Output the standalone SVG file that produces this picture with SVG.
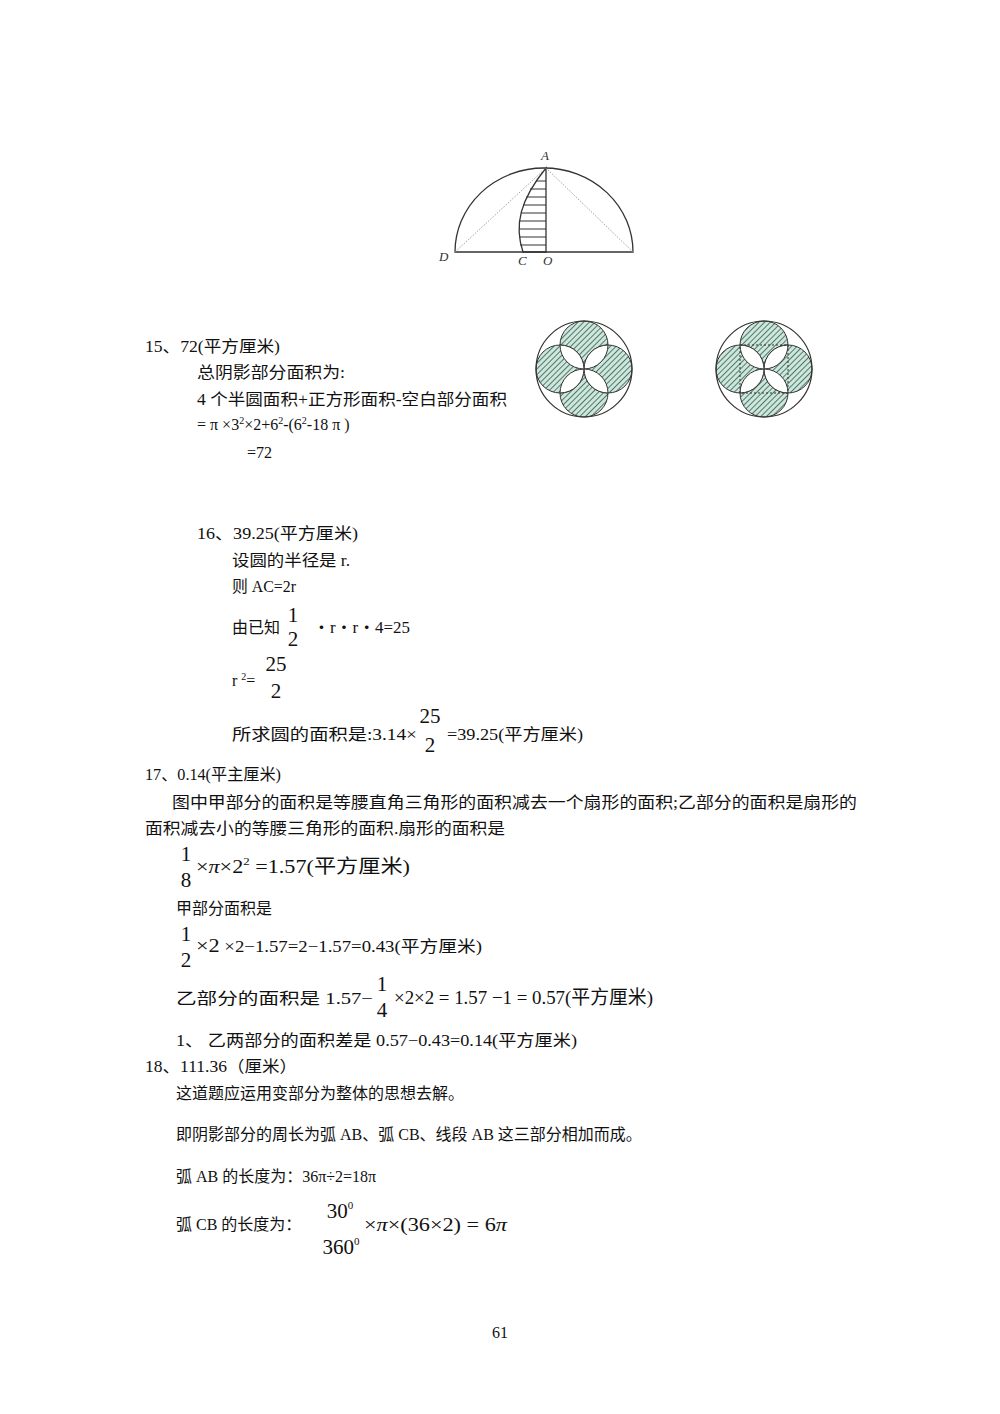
<svg xmlns="http://www.w3.org/2000/svg" width="1000" height="1414" viewBox="0 0 1000 1414">
<defs>
<style>
text{font-family:"Liberation Serif","Noto Sans CJK SC",serif;font-size:16px;fill:#111}
.m{font-size:16px}
.b{font-size:19px}
.f{font-size:21px;text-anchor:middle}
.fig{fill:none;stroke:#333;stroke-width:1.3}
.lbl{font-style:italic;font-size:13px;fill:#333}
</style>
<pattern id="hat" width="4" height="4" patternUnits="userSpaceOnUse" patternTransform="rotate(45)">
<rect width="4" height="4" fill="#cfe6dc"/><line x1="0" y1="0" x2="0" y2="4" stroke="#2e5e4e" stroke-width="1.6"/>
</pattern>
</defs>
<rect width="1000" height="1414" fill="#fff"/>
<g id="semi">
<path d="M546,168 L546,252 L523,252 C514,225 520,200 546,168 Z" fill="#fff" stroke="#333" stroke-width="1.3"/>
<g stroke="#333" stroke-width="1">
<line x1="536" y1="181" x2="546" y2="181"/><line x1="530" y1="189" x2="546" y2="189"/><line x1="526" y1="197" x2="546" y2="197"/><line x1="523" y1="205" x2="546" y2="205"/><line x1="521" y1="213" x2="546" y2="213"/><line x1="519" y1="221" x2="546" y2="221"/><line x1="519" y1="229" x2="546" y2="229"/><line x1="519" y1="237" x2="546" y2="237"/><line x1="520" y1="245" x2="546" y2="245"/>
</g>
<path class="fig" d="M455,252 A89,84 0 0 1 633,252 Z"/>
<line x1="455" y1="252" x2="546" y2="168" stroke="#888" stroke-width="0.8" stroke-dasharray="1.5,1.5"/>
<line x1="633" y1="252" x2="546" y2="168" stroke="#888" stroke-width="0.8" stroke-dasharray="1.5,1.5"/>
<text class="lbl" x="541" y="160">A</text>
<text class="lbl" x="439" y="261">D</text>
<text class="lbl" x="518" y="265">C</text>
<text class="lbl" x="543" y="265">O</text>
</g>
<g id="flower1">
<circle cx="584" cy="345" r="24" fill="url(#hat)" stroke="#333"/>
<circle cx="584" cy="393" r="24" fill="url(#hat)" stroke="#333"/>
<circle cx="560" cy="369" r="24" fill="url(#hat)" stroke="#333"/>
<circle cx="608" cy="369" r="24" fill="url(#hat)" stroke="#333"/>
<g fill="#fff" stroke="#333">
<path d="M584,369 A24,24 0 0 1 608,345 A24,24 0 0 1 584,369Z"/>
<path d="M584,369 A24,24 0 0 0 608,393 A24,24 0 0 0 584,369Z"/>
<path d="M584,369 A24,24 0 0 1 560,393 A24,24 0 0 1 584,369Z"/>
<path d="M584,369 A24,24 0 0 0 560,345 A24,24 0 0 0 584,369Z"/>
</g>
<circle cx="584" cy="369" r="48" fill="none" stroke="#333" stroke-width="1.2"/>
</g>
<g id="flower2">
<circle cx="764" cy="345" r="24" fill="url(#hat)" stroke="#333"/>
<circle cx="764" cy="393" r="24" fill="url(#hat)" stroke="#333"/>
<circle cx="740" cy="369" r="24" fill="url(#hat)" stroke="#333"/>
<circle cx="788" cy="369" r="24" fill="url(#hat)" stroke="#333"/>
<g fill="#fff" stroke="#333">
<path d="M764,369 A24,24 0 0 1 788,345 A24,24 0 0 1 764,369Z"/>
<path d="M764,369 A24,24 0 0 0 788,393 A24,24 0 0 0 764,369Z"/>
<path d="M764,369 A24,24 0 0 1 740,393 A24,24 0 0 1 764,369Z"/>
<path d="M764,369 A24,24 0 0 0 740,345 A24,24 0 0 0 764,369Z"/>
</g>
<rect x="740" y="345" width="48" height="48" fill="none" stroke="#333" stroke-dasharray="2,2"/>
<circle cx="764" cy="369" r="48" fill="none" stroke="#333" stroke-width="1.2"/>
</g>

<text class="m" x="145" y="352" textLength="135" lengthAdjust="spacingAndGlyphs">15、72(平方厘米)</text>
<text x="197" y="378" textLength="148" lengthAdjust="spacingAndGlyphs">总阴影部分面积为:</text>
<text x="197" y="405" textLength="310" lengthAdjust="spacingAndGlyphs">4 个半圆面积+正方形面积-空白部分面积</text>
<text class="m" x="197" y="430">= π ×3<tspan font-size="10" dy="-6">2</tspan><tspan dy="6">×2+6</tspan><tspan font-size="10" dy="-6">2</tspan><tspan dy="6">-(6</tspan><tspan font-size="10" dy="-6">2</tspan><tspan dy="6">-18 π )</tspan></text>
<text class="m" x="247" y="458">=72</text>

<text class="m" x="197" y="539" textLength="161" lengthAdjust="spacingAndGlyphs">16、39.25(平方厘米)</text>
<text class="m" x="232" y="566" textLength="118" lengthAdjust="spacingAndGlyphs">设圆的半径是 r.</text>
<text class="m" x="232" y="592" textLength="64" lengthAdjust="spacingAndGlyphs">则 AC=2r</text>
<text x="232" y="633" font-size="17">由已知</text>
<text class="f" x="293" y="622">1</text><text class="f" x="293" y="646">2</text>
<text class="m" x="313" y="633" textLength="97" lengthAdjust="spacingAndGlyphs">・r・r・4=25</text>
<text class="m" x="232" y="686">r <tspan font-size="10" dy="-6">2</tspan><tspan dy="6">=</tspan></text>
<text class="f" x="276" y="671">25</text><text class="f" x="276" y="698">2</text>
<text class="m" x="232" y="740" textLength="185" lengthAdjust="spacingAndGlyphs">所求圆的面积是:3.14×</text>
<text class="f" x="430" y="723">25</text><text class="f" x="430" y="752">2</text>
<text class="m" x="447" y="740" textLength="136" lengthAdjust="spacingAndGlyphs">=39.25(平方厘米)</text>

<text class="m" x="145" y="780" textLength="136" lengthAdjust="spacingAndGlyphs">17、0.14(平主厘米)</text>
<text x="172" y="808" textLength="685" lengthAdjust="spacingAndGlyphs">图中甲部分的面积是等腰直角三角形的面积减去一个扇形的面积;乙部分的面积是扇形的</text>
<text x="145" y="834" textLength="360" lengthAdjust="spacingAndGlyphs">面积减去小的等腰三角形的面积.扇形的面积是</text>
<text class="f" x="186" y="861">1</text><text class="f" x="186" y="887">8</text>
<text class="b" x="196" y="873" textLength="214" lengthAdjust="spacingAndGlyphs">×<tspan font-style="italic">π</tspan>×2<tspan font-size="11" dy="-8">2</tspan><tspan dy="8"> =1.57(平方厘米)</tspan></text>
<text x="176" y="914">甲部分面积是</text>
<text class="f" x="186" y="941">1</text><text class="f" x="186" y="967">2</text>
<text x="196" y="952" textLength="286" lengthAdjust="spacingAndGlyphs"><tspan font-size="19">×2</tspan> ×2−1.57=2−1.57=0.43(平方厘米)</text>
<text x="176" y="1004" textLength="197" lengthAdjust="spacingAndGlyphs">乙部分的面积是 1.57−</text>
<text class="f" x="382" y="991">1</text><text class="f" x="382" y="1017">4</text>
<text class="b" x="394" y="1004" textLength="259" lengthAdjust="spacingAndGlyphs">×2×2 = 1.57 −1 = 0.57(平方厘米)</text>
<text x="176" y="1046" textLength="401" lengthAdjust="spacingAndGlyphs">1、  乙两部分的面积差是 0.57−0.43=0.14(平方厘米)</text>

<text class="m" x="145" y="1072" textLength="152" lengthAdjust="spacingAndGlyphs">18、111.36（厘米）</text>
<text x="176" y="1099">这道题应运用变部分为整体的思想去解。</text>
<text x="176" y="1140">即阴影部分的周长为弧 AB、弧  CB、线段 AB 这三部分相加而成。</text>
<text x="176" y="1182">弧 AB 的长度为：36π÷2=18π</text>
<text x="176" y="1230">弧 CB 的长度为：</text>
<text class="f" x="340" y="1218">30<tspan font-size="11" dy="-9">0</tspan></text><text class="f" x="341" y="1254">360<tspan font-size="11" dy="-9">0</tspan></text>
<text class="b" x="364" y="1231" textLength="143" lengthAdjust="spacingAndGlyphs">×<tspan font-style="italic">π</tspan>×(36×2) = 6<tspan font-style="italic">π</tspan></text>

<text x="500" y="1338" font-size="13" text-anchor="middle">61</text>
</svg>
